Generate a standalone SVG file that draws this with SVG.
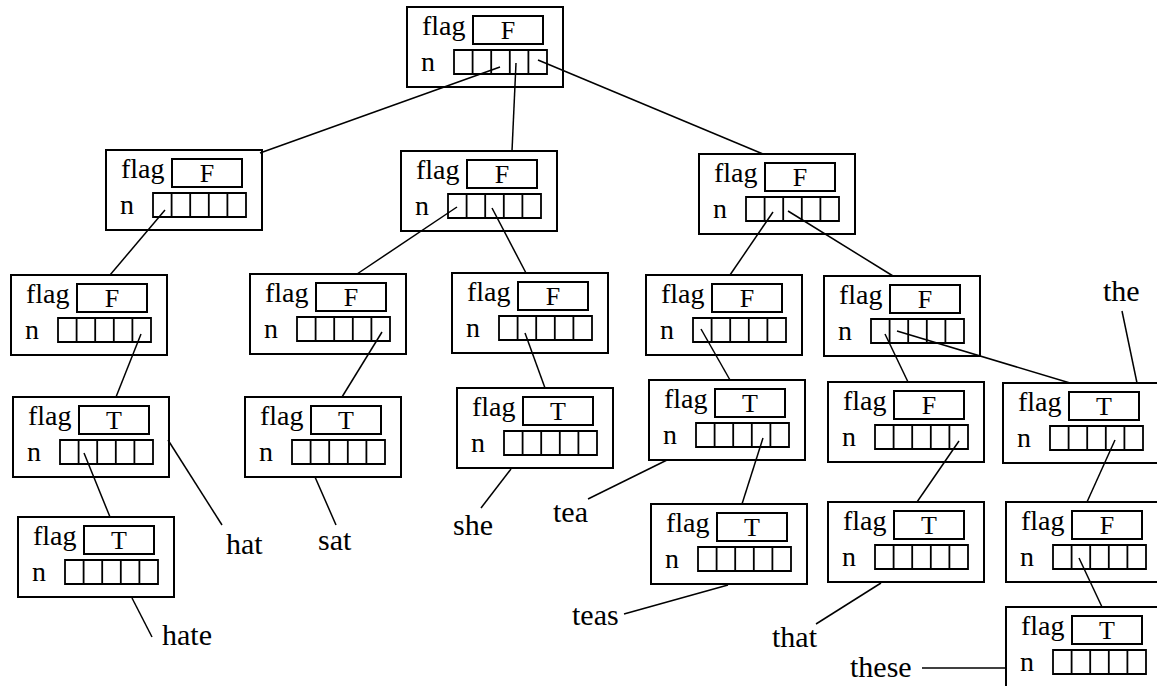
<svg xmlns="http://www.w3.org/2000/svg" width="1157" height="686" viewBox="0 0 1157 686" font-family="'Liberation Serif', 'Times New Roman', serif">
<style>
.box{fill:#fff;stroke:#000;stroke-width:2}
.fb{fill:none;stroke:#000;stroke-width:2}
.cell{fill:none;stroke:#000;stroke-width:1.8}
.lbl{font-family:'Liberation Serif',serif;font-size:28px;fill:#000}
.val{font-family:'Liberation Serif',serif;font-size:26px;fill:#000;text-anchor:middle}
.word{font-family:'Liberation Serif',serif;font-size:30px;fill:#000}
.c line{stroke:#000;stroke-width:1.5}
</style>
<defs>
<g id="frame">
<rect class="box" x="0" y="0" width="156" height="80"/>
<rect class="fb" x="66" y="9" width="70" height="28"/>
<path class="cell" d="M47 43h93v24h-93z M65.6 43v24 M84.2 43v24 M102.8 43v24 M121.4 43v24"/>
</g>
</defs>
<rect width="1157" height="686" fill="#fff"/>
<g id="root" transform="translate(407,7)"><use href="#frame"/><text class="lbl" x="15" y="28">flag</text><text class="lbl" x="14" y="64">n</text><text class="val" x="101" y="32">F</text></g>
<g id="nA" transform="translate(106,150)"><use href="#frame"/><text class="lbl" x="15" y="28">flag</text><text class="lbl" x="14" y="64">n</text><text class="val" x="101" y="32">F</text></g>
<g id="nB" transform="translate(401,151)"><use href="#frame"/><text class="lbl" x="15" y="28">flag</text><text class="lbl" x="14" y="64">n</text><text class="val" x="101" y="32">F</text></g>
<g id="nC" transform="translate(699,154)"><use href="#frame"/><text class="lbl" x="15" y="28">flag</text><text class="lbl" x="14" y="64">n</text><text class="val" x="101" y="32">F</text></g>
<g id="nD" transform="translate(11,275)"><use href="#frame"/><text class="lbl" x="15" y="28">flag</text><text class="lbl" x="14" y="64">n</text><text class="val" x="101" y="32">F</text></g>
<g id="nE" transform="translate(250,274)"><use href="#frame"/><text class="lbl" x="15" y="28">flag</text><text class="lbl" x="14" y="64">n</text><text class="val" x="101" y="32">F</text></g>
<g id="nG" transform="translate(452,273)"><use href="#frame"/><text class="lbl" x="15" y="28">flag</text><text class="lbl" x="14" y="64">n</text><text class="val" x="101" y="32">F</text></g>
<g id="nH" transform="translate(646,275)"><use href="#frame"/><text class="lbl" x="15" y="28">flag</text><text class="lbl" x="14" y="64">n</text><text class="val" x="101" y="32">F</text></g>
<g id="nI" transform="translate(824,276)"><use href="#frame"/><text class="lbl" x="15" y="28">flag</text><text class="lbl" x="14" y="64">n</text><text class="val" x="101" y="32">F</text></g>
<g id="nJ" transform="translate(13,397)"><use href="#frame"/><text class="lbl" x="15" y="28">flag</text><text class="lbl" x="14" y="64">n</text><text class="val" x="101" y="32">T</text></g>
<g id="nK" transform="translate(245,397)"><use href="#frame"/><text class="lbl" x="15" y="28">flag</text><text class="lbl" x="14" y="64">n</text><text class="val" x="101" y="32">T</text></g>
<g id="nL" transform="translate(457,388)"><use href="#frame"/><text class="lbl" x="15" y="28">flag</text><text class="lbl" x="14" y="64">n</text><text class="val" x="101" y="32">T</text></g>
<g id="nM" transform="translate(649,380)"><use href="#frame"/><text class="lbl" x="15" y="28">flag</text><text class="lbl" x="14" y="64">n</text><text class="val" x="101" y="32">T</text></g>
<g id="nN" transform="translate(828,382)"><use href="#frame"/><text class="lbl" x="15" y="28">flag</text><text class="lbl" x="14" y="64">n</text><text class="val" x="101" y="32">F</text></g>
<g id="nO" transform="translate(1003,383)"><use href="#frame"/><text class="lbl" x="15" y="28">flag</text><text class="lbl" x="14" y="64">n</text><text class="val" x="101" y="32">T</text></g>
<g id="nP" transform="translate(18,517)"><use href="#frame"/><text class="lbl" x="15" y="28">flag</text><text class="lbl" x="14" y="64">n</text><text class="val" x="101" y="32">T</text></g>
<g id="nQ" transform="translate(651,504)"><use href="#frame"/><text class="lbl" x="15" y="28">flag</text><text class="lbl" x="14" y="64">n</text><text class="val" x="101" y="32">T</text></g>
<g id="nR" transform="translate(828,502)"><use href="#frame"/><text class="lbl" x="15" y="28">flag</text><text class="lbl" x="14" y="64">n</text><text class="val" x="101" y="32">T</text></g>
<g id="nS" transform="translate(1006,502)"><use href="#frame"/><text class="lbl" x="15" y="28">flag</text><text class="lbl" x="14" y="64">n</text><text class="val" x="101" y="32">F</text></g>
<g id="nU" transform="translate(1006,607)"><use href="#frame"/><text class="lbl" x="15" y="28">flag</text><text class="lbl" x="14" y="64">n</text><text class="val" x="101" y="32">T</text></g>
<g id="connectors" class="c">
<line x1="500" y1="67" x2="260" y2="153"/>
<line x1="516" y1="63" x2="512" y2="151"/>
<line x1="538" y1="60" x2="763" y2="154"/>
<line x1="165" y1="210" x2="110" y2="275"/>
<line x1="457" y1="207" x2="357" y2="274"/>
<line x1="492" y1="208" x2="526" y2="273"/>
<line x1="773" y1="212" x2="730" y2="275"/>
<line x1="788" y1="211" x2="893" y2="276"/>
<line x1="141" y1="334" x2="116" y2="397"/>
<line x1="382" y1="332" x2="342" y2="397"/>
<line x1="525" y1="333" x2="545" y2="388"/>
<line x1="701" y1="329" x2="730" y2="380"/>
<line x1="885" y1="334" x2="908" y2="382"/>
<line x1="897" y1="331" x2="1070" y2="383"/>
<line x1="84" y1="453" x2="110" y2="517"/>
<line x1="168" y1="440" x2="222" y2="525"/>
<line x1="132" y1="598" x2="152" y2="637"/>
<line x1="315" y1="477" x2="336" y2="525"/>
<line x1="511" y1="469" x2="481" y2="508"/>
<line x1="667" y1="460" x2="588" y2="499"/>
<line x1="763" y1="438" x2="742" y2="504"/>
<line x1="728" y1="585" x2="624" y2="614"/>
<line x1="959" y1="441" x2="917" y2="502"/>
<line x1="881" y1="583" x2="816" y2="624"/>
<line x1="1137" y1="383" x2="1122" y2="311"/>
<line x1="1115" y1="440" x2="1087" y2="502"/>
<line x1="1079" y1="558" x2="1102" y2="607"/>
<line x1="922" y1="668" x2="1006" y2="668"/>
</g>
<g id="labels">
<text class="word" x="226" y="554">hat</text>
<text class="word" x="162" y="645">hate</text>
<text class="word" x="318" y="550">sat</text>
<text class="word" x="453" y="535">she</text>
<text class="word" x="553" y="522">tea</text>
<text class="word" x="572" y="625">teas</text>
<text class="word" x="772" y="647">that</text>
<text class="word" x="850" y="677">these</text>
<text class="word" x="1103" y="301">the</text>
</g>
</svg>
